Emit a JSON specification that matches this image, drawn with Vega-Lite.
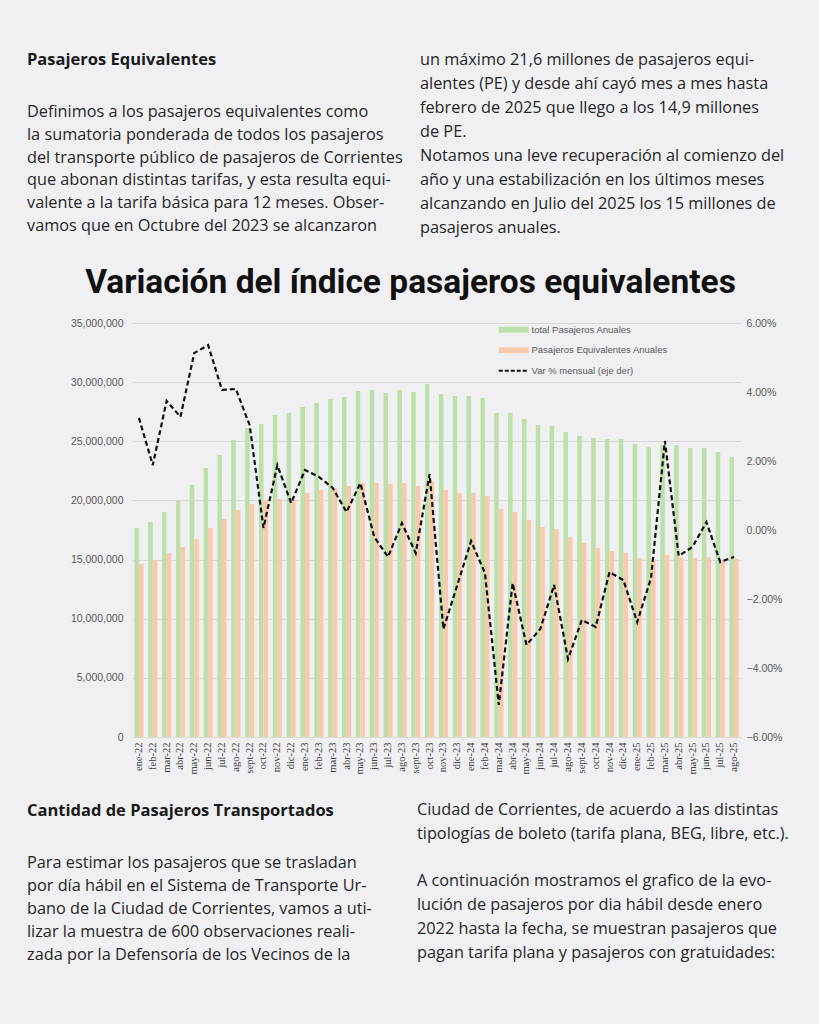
{
  "$schema": "https://vega.github.io/schema/vega-lite/v6.json",
  "background": "#f0f0f2",
  "padding": {"left": 27, "top": 51, "right": 24, "bottom": 61},
  "config": {"view": {"stroke": null}, "font": "Open Sans"},
  "spacing": 28,
  "vconcat": [
    {
      "spacing": 17,
      "hconcat": [
        {
          "width": 373, "height": 1,
          "data": {"values": []},
          "mark": "text",
          "title": {
            "text": "Pasajeros Equivalentes",
            "subtitle": [
              "Definimos a los pasajeros equivalentes como",
              "la sumatoria ponderada de todos los pasajeros",
              "del transporte público de pasajeros de Corrientes",
              "que abonan distintas tarifas, y esta resulta equi-",
              "valente a la tarifa básica para 12 meses. Obser-",
              "vamos que en Octubre del 2023 se alcanzaron"
            ],
            "anchor": "start", "frame": "group", "offset": 2,
            "font": "Open Sans", "fontSize": 16.5, "fontWeight": "bold", "color": "#1a1a1a",
            "subtitleFont": "Open Sans", "subtitleFontSize": 16.3, "subtitleColor": "#262626",
            "subtitleLineHeight": 22.7, "subtitlePadding": 36
          }
        },
        {
          "width": 375, "height": 1,
          "data": {"values": []},
          "mark": "text",
          "title": {
            "text": [
              "un máximo 21,6 millones de pasajeros equi-",
              "alentes (PE) y desde ahí cayó mes a mes hasta",
              "febrero de 2025 que llego a los 14,9 millones",
              "de PE.",
              "Notamos una leve recuperación al comienzo del",
              "año y una estabilización en los últimos meses",
              "alcanzando en Julio del 2025 los 15 millones de",
              "pasajeros anuales."
            ],
            "anchor": "start", "frame": "group", "offset": 0,
            "font": "Open Sans", "fontSize": 16.3, "fontWeight": "normal", "color": "#262626",
            "lineHeight": 23.9
          }
        }
      ]
    },
    {
      "spacing": 27,
      "vconcat": [
        {
          "spacing": 0,
          "hconcat": [
            {"width": 43, "height": 1, "data": {"values": []}, "mark": "text"},
            {
              "width": 609, "height": 414,
              "title": {
                "text": "Variación del índice pasajeros equivalentes",
                "anchor": "middle", "frame": "group", "dx": -26, "offset": 18,
                "font": "Roboto", "fontSize": 33.5, "fontWeight": "bold", "color": "#111111"
              },
              "data": {"values": [
                {"mes": "ene-22", "total": 17670000, "pe": 14620000, "var": 0.0325},
                {"mes": "feb-22", "total": 18170000, "pe": 14960000, "var": 0.0188},
                {"mes": "mar-22", "total": 19020000, "pe": 15550000, "var": 0.0374},
                {"mes": "abr-22", "total": 19950000, "pe": 16060000, "var": 0.0328},
                {"mes": "may-22", "total": 21300000, "pe": 16740000, "var": 0.0513},
                {"mes": "jun-22", "total": 22740000, "pe": 17670000, "var": 0.0536},
                {"mes": "jul-22", "total": 23840000, "pe": 18430000, "var": 0.0406},
                {"mes": "ago-22", "total": 25110000, "pe": 19190000, "var": 0.0409},
                {"mes": "sept-22", "total": 26120000, "pe": 19700000, "var": 0.0304},
                {"mes": "oct-22", "total": 26460000, "pe": 20030000, "var": 0.0006},
                {"mes": "nov-22", "total": 27220000, "pe": 20120000, "var": 0.0188},
                {"mes": "dic-22", "total": 27390000, "pe": 20050000, "var": 0.0078},
                {"mes": "ene-23", "total": 27900000, "pe": 20630000, "var": 0.0174},
                {"mes": "feb-23", "total": 28230000, "pe": 20880000, "var": 0.0154},
                {"mes": "mar-23", "total": 28570000, "pe": 21050000, "var": 0.0122},
                {"mes": "abr-23", "total": 28740000, "pe": 21220000, "var": 0.0052},
                {"mes": "may-23", "total": 29250000, "pe": 21470000, "var": 0.0136},
                {"mes": "jun-23", "total": 29330000, "pe": 21470000, "var": -0.0020},
                {"mes": "jul-23", "total": 29080000, "pe": 21390000, "var": -0.0078},
                {"mes": "ago-23", "total": 29330000, "pe": 21470000, "var": 0.0020},
                {"mes": "sept-23", "total": 29160000, "pe": 21220000, "var": -0.0067},
                {"mes": "oct-23", "total": 29840000, "pe": 21600000, "var": 0.0162},
                {"mes": "nov-23", "total": 28990000, "pe": 20880000, "var": -0.0287},
                {"mes": "dic-23", "total": 28830000, "pe": 20630000, "var": -0.0160},
                {"mes": "ene-24", "total": 28830000, "pe": 20630000, "var": -0.0032},
                {"mes": "feb-24", "total": 28660000, "pe": 20370000, "var": -0.0125},
                {"mes": "mar-24", "total": 27390000, "pe": 19270000, "var": -0.0507},
                {"mes": "abr-24", "total": 27390000, "pe": 19020000, "var": -0.0154},
                {"mes": "may-24", "total": 26880000, "pe": 18340000, "var": -0.0333},
                {"mes": "jun-24", "total": 26370000, "pe": 17750000, "var": -0.0287},
                {"mes": "jul-24", "total": 26290000, "pe": 17580000, "var": -0.0159},
                {"mes": "ago-24", "total": 25780000, "pe": 16910000, "var": -0.0374},
                {"mes": "sept-24", "total": 25440000, "pe": 16400000, "var": -0.0261},
                {"mes": "oct-24", "total": 25270000, "pe": 15980000, "var": -0.0281},
                {"mes": "nov-24", "total": 25190000, "pe": 15720000, "var": -0.0122},
                {"mes": "dic-24", "total": 25190000, "pe": 15550000, "var": -0.0145},
                {"mes": "ene-25", "total": 24770000, "pe": 15130000, "var": -0.0267},
                {"mes": "feb-25", "total": 24510000, "pe": 14960000, "var": -0.0139},
                {"mes": "mar-25", "total": 24680000, "pe": 15380000, "var": 0.0258},
                {"mes": "abr-25", "total": 24680000, "pe": 15200000, "var": -0.0075},
                {"mes": "may-25", "total": 24430000, "pe": 15130000, "var": -0.0049},
                {"mes": "jun-25", "total": 24430000, "pe": 15200000, "var": 0.0023},
                {"mes": "jul-25", "total": 24090000, "pe": 14960000, "var": -0.0093},
                {"mes": "ago-25", "total": 23670000, "pe": 15050000, "var": -0.0078}
              ]},
              "layer": [
                {
                  "transform": [{"fold": ["total", "pe"], "as": ["key", "value"]}],
                  "mark": {"type": "bar"},
                  "encoding": {
                    "x": {
                      "field": "mes", "type": "ordinal", "sort": null,
                      "scale": {"paddingInner": 0.34, "paddingOuter": 0.17},
                      "axis": {
                        "title": null, "labelAngle": -90, "labelFont": "Liberation Serif",
                        "labelFontSize": 10.5, "labelColor": "#404040", "ticks": false,
                        "domain": true, "domainColor": "#d9d9d9", "labelPadding": 5
                      }
                    },
                    "xOffset": {"field": "key", "sort": ["total", "pe"]},
                    "y": {
                      "field": "value", "type": "quantitative",
                      "scale": {"domain": [0, 35000000]},
                      "axis": {
                        "title": null, "values": [0, 5000000, 10000000, 15000000, 20000000, 25000000, 30000000, 35000000],
                        "format": ",d", "labelFont": "Liberation Sans", "labelFontSize": 10.5,
                        "labelColor": "#595959", "domain": false, "ticks": false, "labelPadding": 9,
                        "grid": true, "gridColor": "#d9d9d9", "gridWidth": 1
                      }
                    },
                    "color": {
                      "field": "key",
                      "scale": {"domain": ["total", "pe", "var"], "range": ["#bde0aa", "#f8caac", "#111111"]},
                      "legend": {
                        "title": null, "orient": "none", "legendX": 482, "legendY": 89,
                        "symbolType": "M-6,0H6", "symbolSize": 25, "symbolStrokeWidth": 6,
                        "labelFont": "Liberation Sans", "labelFontSize": 9.5, "labelColor": "#595959",
                        "rowPadding": -4.5, "labelOffset": 13, "gridAlign": "all",
                        "labelExpr": "datum.value == 'total' ? 'total Pasajeros Anuales' : datum.value == 'pe' ? 'Pasajeros Equivalentes Anuales' : 'Var % mensual (eje der)'",
                        "encode": {
                          "symbols": {
                            "update": {
                              "fill": {"value": "transparent"},
                              "fillOpacity": {"value": 0},
                              "opacity": {"value": 1},
                              "stroke": {"signal": "datum.value === 'total' ? '#bde0aa' : datum.value === 'pe' ? '#f8caac' : '#111111'"},
                              "strokeWidth": {"signal": "datum.value === 'var' ? 2.2 : 6"},
                              "strokeDash": {"signal": "datum.value === 'var' ? [4, 2] : [1, 0]"}
                            }
                          }
                        }
                      }
                    }
                  }
                },
                {
                  "mark": {"type": "line", "strokeDash": [5, 3], "strokeWidth": 2.2},
                  "encoding": {
                    "x": {"field": "mes", "type": "ordinal", "sort": null},
                    "y": {
                      "field": "var", "type": "quantitative",
                      "scale": {"domain": [-0.06, 0.06]},
                      "axis": {
                        "title": null, "orient": "right",
                        "values": [-0.06, -0.04, -0.02, 0, 0.02, 0.04, 0.06],
                        "format": ".2%", "labelFont": "Liberation Sans", "labelFontSize": 10.5,
                        "labelColor": "#595959", "domain": false, "ticks": false, "labelPadding": 5, "grid": false
                      }
                    },
                    "color": {"datum": "var"}
                  }
                }
              ],
              "resolve": {"scale": {"y": "independent"}}
            }
          ]
        },
        {
          "spacing": 17,
          "hconcat": [
            {
              "width": 373, "height": 1,
              "data": {"values": []},
              "mark": "text",
              "title": {
                "text": "Cantidad de Pasajeros Transportados",
                "subtitle": [
                  "Para estimar los pasajeros que se trasladan",
                  "por día hábil en el Sistema de Transporte Ur-",
                  "bano de la Ciudad de Corrientes, vamos a uti-",
                  "lizar la muestra de 600 observaciones reali-",
                  "zada por la Defensoría de los Vecinos de la"
                ],
                "anchor": "start", "frame": "group", "offset": 4,
                "font": "Open Sans", "fontSize": 16.5, "fontWeight": "bold", "color": "#1a1a1a",
                "subtitleFont": "Open Sans", "subtitleFontSize": 16.3, "subtitleColor": "#262626",
                "subtitleLineHeight": 23, "subtitlePadding": 35
              }
            },
            {
              "width": 375, "height": 1,
              "data": {"values": []},
              "mark": "text",
              "title": {
                "text": [
                  "Ciudad de Corrientes, de acuerdo a las distintas",
                  "tipologías de boleto (tarifa plana, BEG, libre, etc.)."
                ],
                "subtitle": [
                  "A continuación mostramos el grafico de la evo-",
                  "lución de pasajeros por dia hábil desde enero",
                  "2022 hasta la fecha, se muestran pasajeros que",
                  "pagan tarifa plana y pasajeros con gratuidades:"
                ],
                "anchor": "start", "frame": "group", "offset": 6,
                "font": "Open Sans", "fontSize": 16.3, "fontWeight": "normal", "color": "#262626",
                "lineHeight": 24,
                "subtitleFont": "Open Sans", "subtitleFontSize": 16.3, "subtitleColor": "#262626",
                "subtitleLineHeight": 24, "subtitlePadding": 30
              }
            }
          ]
        }
      ]
    }
  ]
}
